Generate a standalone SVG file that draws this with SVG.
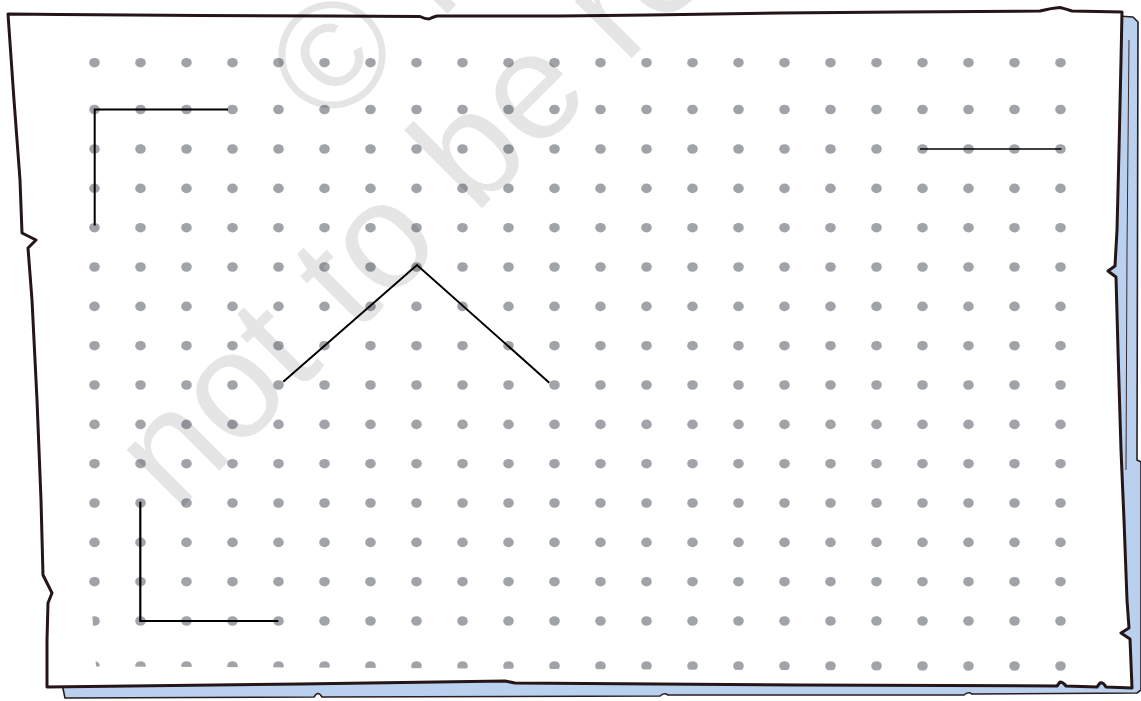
<svg xmlns="http://www.w3.org/2000/svg" xmlns:xlink="http://www.w3.org/1999/xlink" width="1141" height="701" viewBox="0 0 1141 701">
<style>
.edge{fill:#ffffff;stroke:#241517;stroke-width:3;stroke-linejoin:round}
.sheet{fill:#b9d1ee;stroke:#2a1c1e;stroke-width:1.6;stroke-linejoin:round}
.dot{fill:#a0a3a8}
.seg{fill:none;stroke:#000;stroke-width:2;stroke-linecap:butt;stroke-linejoin:miter}
.wm{fill:#000;fill-opacity:0.1;font-family:"Liberation Sans",Arial,sans-serif;font-size:152px}
</style>
<defs>
<g id="row">
<ellipse class="dot" cx="94.5" cy="0" rx="5.3" ry="4.8"/><ellipse class="dot" cx="140.5" cy="0" rx="5.3" ry="4.8"/><ellipse class="dot" cx="186.5" cy="0" rx="5.3" ry="4.8"/><ellipse class="dot" cx="232.5" cy="0" rx="5.3" ry="4.8"/><ellipse class="dot" cx="278.5" cy="0" rx="5.3" ry="4.8"/><ellipse class="dot" cx="324.5" cy="0" rx="5.3" ry="4.8"/><ellipse class="dot" cx="370.5" cy="0" rx="5.3" ry="4.8"/><ellipse class="dot" cx="416.5" cy="0" rx="5.3" ry="4.8"/><ellipse class="dot" cx="462.5" cy="0" rx="5.3" ry="4.8"/><ellipse class="dot" cx="508.5" cy="0" rx="5.3" ry="4.8"/><ellipse class="dot" cx="554.5" cy="0" rx="5.3" ry="4.8"/><ellipse class="dot" cx="600.5" cy="0" rx="5.3" ry="4.8"/><ellipse class="dot" cx="646.5" cy="0" rx="5.3" ry="4.8"/><ellipse class="dot" cx="692.5" cy="0" rx="5.3" ry="4.8"/><ellipse class="dot" cx="738.5" cy="0" rx="5.3" ry="4.8"/><ellipse class="dot" cx="784.5" cy="0" rx="5.3" ry="4.8"/><ellipse class="dot" cx="830.5" cy="0" rx="5.3" ry="4.8"/><ellipse class="dot" cx="876.5" cy="0" rx="5.3" ry="4.8"/><ellipse class="dot" cx="922.5" cy="0" rx="5.3" ry="4.8"/><ellipse class="dot" cx="968.5" cy="0" rx="5.3" ry="4.8"/><ellipse class="dot" cx="1014.5" cy="0" rx="5.3" ry="4.8"/><ellipse class="dot" cx="1060.5" cy="0" rx="5.3" ry="4.8"/>
</g>
<clipPath id="dotclip">
<polygon points="0,0 1141,0 1141,672 96,666.5 92,612 0,612"/>
</clipPath>
</defs>
<rect width="1141" height="701" fill="#ffffff"/>
<g id="paper">
<path class="sheet" d="M62,684 L65,698 L314,697 Q318,690 322,697 L660,696 Q664,692 668,695 L964,695 Q968,691 972,694 L1137,693 L1141,690 L1141,462 L1137,460 L1138,22 L1133,17 L1118,16 Z"/>
<path d="M1129,40 L1127,250 L1126,470" fill="none" stroke="#3a2a2c" stroke-width="1"/>
<path class="edge" d="M8,14 L60,14.5 L200,15.5 L330,16 L420,16.5 Q425,19 429,19 Q433,17 437,16 L560,16 L650,15 L780,13 L900,12 L1040,11 Q1052,8 1060,7.5 Q1066,9 1072,11 L1122,12 L1121,60 L1119,150 L1117,230 L1115,266 L1108,271 L1116,277 L1118,350 L1121,450 L1124,520 L1127,600 L1129,628 L1121,633 L1130,639 L1132,688 L1106,687 Q1103,682 1100,683 L1097,687 L1066,686 Q1063,682 1060,682 L1057,686 L800,685 L515,683 L505,681 L300,684 L47,687 L47,640 L48,603 L52,593 L43,575 L41,500 L37,400 L32,300 L28,248 L36,240 L22,233 L20,180 L14,100 Z"/>
</g>
<g id="dots" clip-path="url(#dotclip)">
<use href="#row" y="62.7"/>
<use href="#row" y="109.5"/>
<use href="#row" y="149"/>
<use href="#row" y="188.4"/>
<use href="#row" y="227.7"/>
<use href="#row" y="267"/>
<use href="#row" y="306.4"/>
<use href="#row" y="345.7"/>
<use href="#row" y="385"/>
<use href="#row" y="424.4"/>
<use href="#row" y="463.7"/>
<use href="#row" y="503"/>
<use href="#row" y="542.4"/>
<use href="#row" y="581.7"/>
<use href="#row" y="621"/>
<use href="#row" y="666"/>
</g>
<g id="watermark">
<text class="wm" transform="translate(176,514) rotate(-45)">not to be republished</text>
<text class="wm" transform="translate(329.5,131.5) rotate(-45)">© NCERT</text>
</g>
<g id="segments">
<polyline class="seg" points="228,109.5 94.7,109.5 94.7,225.5"/>
<line class="seg" x1="920" y1="149" x2="1061.5" y2="149" style="stroke-width:1.5"/>
<polyline class="seg" points="283.3,381.7 417,265 549.3,382.7"/>
<polyline class="seg" points="140.3,501.7 140.3,621 278.3,621" style="stroke-width:2.2"/>
</g>
</svg>
